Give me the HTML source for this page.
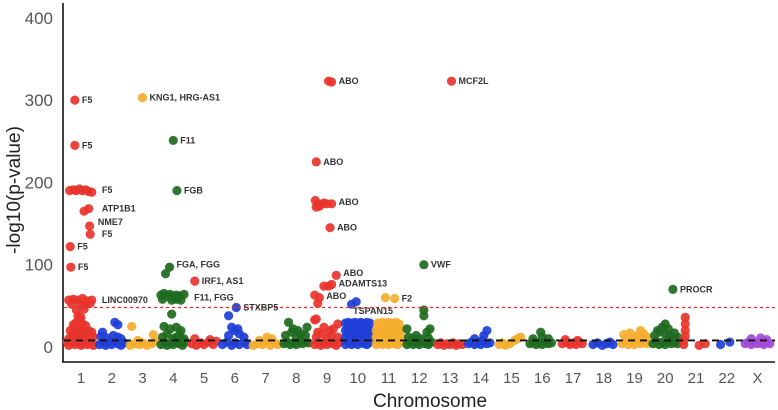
<!DOCTYPE html>
<html><head><meta charset="utf-8">
<style>
html,body{margin:0;padding:0;background:#fff;}
svg{display:block;font-family:"Liberation Sans",sans-serif;}
.lbl{font-size:9px;fill:#333;font-weight:600;}
</style></head>
<body>
<svg id="chart" width="778" height="410" viewBox="0 0 778 410">
<g id="axes"></g>
<g id="pts"></g>
<g id="labels"></g>
</svg>
<script>
const chromosomes=["1","2","3","4","5","6","7","8","9","10","11","12","13","14","15","16","17","18","19","20","21","22","X"];
const chrColors=["#e8342c","#1f3fd8","#f5ae2e","#1e6a1e","#e8342c","#1f3fd8","#f5ae2e","#1e6a1e","#e8342c","#1f3fd8","#f5ae2e","#1e6a1e","#e8342c","#1f3fd8","#f5ae2e","#1e6a1e","#e8342c","#1f3fd8","#f5ae2e","#1e6a1e","#e8342c","#1f3fd8","#a34ad8"];
const yTicks=[0,100,200,300,400];
const suggestiveLine=8;
const significanceLine=48;
// background points: [chromosome index, position within chromosome (-0.5..0.5), -log10 p]
const bgPoints=[
[0,-.4,2],[0,-.3,5],[0,-.2,3],[0,-.1,6],[0,0,2],[0,.1,4],[0,.2,3],[0,.3,5],[0,.4,2],[0,-.4,10],[0,-.3,14],[0,-.2,12],[0,-.1,16],[0,0,11],[0,.1,13],[0,.2,15],[0,.3,10],[0,.4,12],[0,-.35,20],[0,-.2,22],[0,-.1,25],[0,0,19],[0,.1,21],[0,.25,20],[0,-.15,30],[0,-.05,33],[0,.05,28],[0,-.25,27],[0,.15,26],[0,-.1,38],[0,0,36],[0,-.05,16],[0,.35,18],[0,-.45,6],
[1,-.4,3],[1,-.3,6],[1,-.2,2],[1,-.1,5],[1,0,3],[1,.1,7],[1,.2,4],[1,.3,2],[1,.4,5],[1,-.35,13],[1,-.15,11],[1,.05,14],[1,.2,12],[1,.3,10],[1,.1,30],[1,.2,27],[1,-.3,18],
[2,-.4,2],[2,-.25,4],[2,-.1,3],[2,0,5],[2,.15,2],[2,.3,4],[2,.4,7],[2,-.35,25],[2,.35,15],[2,-.15,8],
[3,-.4,3],[3,-.3,6],[3,-.2,2],[3,-.1,5],[3,0,3],[3,.1,6],[3,.2,4],[3,.3,2],[3,.4,6],[3,-.35,12],[3,-.2,16],[3,0,10],[3,.2,14],[3,.35,10],[3,-.3,25],[3,-.1,22],[3,.1,24],[3,.25,20],[3,-.05,40],[3,.1,12],
[4,-.4,4],[4,-.25,2],[4,-.1,5],[4,0,3],[4,.15,6],[4,.3,3],[4,.4,7],[4,-.3,10],[4,.2,9],
[5,-.4,3],[5,-.25,6],[5,-.1,2],[5,0,5],[5,.15,3],[5,.3,6],[5,.4,3],[5,-.2,14],[5,0,20],[5,.15,16],[5,.3,12],[5,-.1,24],[5,.1,22],
[6,-.4,2],[6,-.25,4],[6,-.1,3],[6,0,6],[6,.15,2],[6,.3,5],[6,.4,3],[6,.2,10],[6,.05,12],[6,-.2,8],
[7,-.4,4],[7,-.3,6],[7,-.2,3],[7,-.1,5],[7,0,3],[7,.1,7],[7,.2,4],[7,.3,6],[7,.4,5],[7,-.35,14],[7,-.15,18],[7,0,12],[7,.15,16],[7,.3,14],[7,-.25,30],[7,.35,24],[7,-.1,22],[7,.05,20],
[8,-.4,3],[8,-.3,6],[8,-.2,2],[8,-.1,5],[8,0,3],[8,.1,6],[8,.2,4],[8,.3,2],[8,.4,6],[8,-.35,12],[8,-.15,16],[8,0,10],[8,.15,14],[8,.35,12],[8,-.3,18],[8,.1,20],[8,.35,28],[8,-.1,24],[8,.2,22],[8,-.4,33],
[9,-.4,3],[9,-.3,6],[9,-.2,3],[9,-.1,5],[9,0,3],[9,.1,6],[9,.2,4],[9,.3,3],[9,.4,6],[9,-.4,12],[9,-.3,15],[9,-.2,11],[9,-.1,14],[9,0,12],[9,.1,15],[9,.2,11],[9,.3,14],[9,.4,12],[9,-.4,20],[9,-.3,22],[9,-.2,19],[9,-.1,21],[9,0,20],[9,.1,22],[9,.2,19],[9,.3,21],[9,.4,20],[9,-.4,29],[9,-.3,30],[9,-.2,28],[9,-.1,30],[9,0,29],[9,.1,30],[9,.2,28],[9,.3,30],[9,.4,29],
[10,-.4,3],[10,-.3,6],[10,-.2,3],[10,-.1,5],[10,0,3],[10,.1,6],[10,.2,4],[10,.3,3],[10,.4,6],[10,-.4,12],[10,-.3,15],[10,-.2,11],[10,-.1,14],[10,0,12],[10,.1,15],[10,.2,11],[10,.3,14],[10,.4,12],[10,-.4,20],[10,-.3,22],[10,-.2,19],[10,-.1,21],[10,0,20],[10,.1,22],[10,.2,19],[10,.3,21],[10,.4,20],[10,-.35,29],[10,-.2,30],[10,-.1,28],[10,0,30],[10,.1,29],[10,.25,30],[10,.35,28],
[11,-.4,3],[11,-.3,6],[11,-.2,3],[11,-.1,5],[11,0,3],[11,.1,6],[11,.2,4],[11,.3,3],[11,.4,6],[11,-.35,12],[11,-.1,14],[11,.05,10],[11,.3,11],[11,-.4,22],[11,.25,18],[11,.35,22],[11,-.2,10],
[12,-.4,3],[12,-.3,5],[12,-.2,2],[12,-.1,4],[12,0,3],[12,.1,5],[12,.2,2],[12,.3,4],[12,.4,3],
[13,-.4,4],[13,-.3,6],[13,-.2,3],[13,-.1,5],[13,0,3],[13,.1,6],[13,.2,4],[13,.3,5],[13,-.2,10],[13,.1,14],[13,.2,20],[13,.05,8],
[14,-.4,3],[14,-.3,5],[14,-.2,2],[14,-.05,4],[14,.1,8],[14,.2,10],[14,.3,12],
[15,-.4,4],[15,-.3,6],[15,-.2,3],[15,-.1,5],[15,0,3],[15,.1,6],[15,.2,4],[15,.3,5],[15,-.3,10],[15,0,12],[15,.2,10],[15,-.05,18],
[16,-.35,4],[16,-.2,6],[16,-.1,3],[16,0,5],[16,.1,3],[16,.2,6],[16,.3,4],[16,-.25,9],[16,.15,8],
[17,-.35,3],[17,-.2,5],[17,-.05,2],[17,.1,4],[17,.2,6],[17,.3,3],
[18,-.4,4],[18,-.3,7],[18,-.2,3],[18,-.1,6],[18,0,3],[18,.1,7],[18,.2,4],[18,.3,6],[18,.4,4],[18,-.35,15],[18,-.15,17],[18,.1,14],[18,.3,16],[18,.4,12],[18,.2,20],[18,-.05,11],
[19,-.4,4],[19,-.3,7],[19,-.2,3],[19,-.1,6],[19,0,3],[19,.1,7],[19,.2,4],[19,.3,6],[19,.4,4],[19,-.35,14],[19,-.2,18],[19,0,16],[19,.15,14],[19,.3,17],[19,.4,12],[19,-.1,24],[19,0,28],[19,.1,22],[19,-.25,20],[19,.25,10],
[20,-.4,3],[20,-.4,8],[20,-.35,28],[20,-.35,20],[20,-.35,13],[20,.1,2],[20,.3,4],
[21,-.2,3],[21,.1,6],
[22,-.4,4],[22,-.3,6],[22,-.2,3],[22,-.1,5],[22,0,4],[22,.1,6],[22,.2,3],[22,.3,5],[22,.4,4],[22,-.2,10],[22,.1,11],[22,.3,9]
];
// highlighted hits: [chromosome index, position, -log10 p]
const hitPoints=[
[0,-.2,300],[0,-.2,245],[0,-.37,190],[0,-.25,191],[0,-.15,190],[0,-.05,192],[0,.05,190],[0,.15,191],[0,.25,189],[0,.35,188],
[0,.1,165],[0,.25,168],[0,.28,147],[0,.3,137],[0,-.35,122],[0,-.33,97],
[0,-.4,57],[0,-.25,58],[0,-.1,57],[0,.05,59],[0,.2,56],[0,.35,57],[0,-.3,52],[0,0,51],[0,.15,52],[0,.3,53],[0,-.15,45],[0,.1,46],
[2,0,303],
[3,0,251],[3,.12,190],[3,-.12,97],[3,-.25,89],[3,-.4,63],[3,-.3,65],[3,-.2,62],[3,-.1,64],[3,0,61],[3,.1,63],[3,.2,62],[3,.35,64],[3,-.35,58],[3,-.05,57],[3,.25,57],[3,.1,58],
[4,-.3,80],
[5,.05,48],[5,-.2,38],
[8,.05,323],[8,.15,322],[8,-.35,225],[8,-.38,178],[8,-.3,174],[8,-.2,173],[8,-.1,175],[8,0,174],[8,.15,174],[8,-.35,170],[8,-.25,171],[8,.1,145],[8,.3,87],[8,-.1,74],[8,.05,74],[8,.15,76],[8,-.4,63],[8,-.25,60],[8,-.3,53],[8,-.35,34],
[9,-.2,52],[9,-.05,55],
[10,-.1,60],[10,.2,59],
[11,.15,100],[11,.15,45],[11,.15,38],
[12,.05,323],
[19,.25,70],
[20,-.35,36]
];
const geneLabels=["F5","F5","F5","ATP1B1","NME7","F5","F5","F5","LINC00970","KNG1, HRG-AS1","F11","FGB","FGA, FGG","IRF1, AS1","F11, FGG","STXBP5","ABO","ABO","ABO","ABO","ABO","ADAMTS13","ABO","TSPAN15","F2","VWF","MCF2L","PROCR"];
const labelChr=[0,0,0,0,0,0,0,0,0,2,3,3,3,4,3,5,8,8,8,8,8,8,8,9,10,11,12,19];
const labelPos=[-.2,-.2,.45,.45,.32,.45,-.35,-.33,.45,0,0,.12,-.12,-.3,.45,.05,.15,-.35,.15,.1,.3,.15,-.25,.1,.2,.15,.05,.25];
const labelVal=[300,245,191,168,152,137,122,97,57,303,251,190,100,80,60,48,323,225,176,145,90,77,62,45,59,100,323,70];

const X0=81,DX=30.75,Y0=347,PY=0.823;
const xs=(c,p)=>X0+c*DX+p*DX;
const ys=v=>Y0-v*PY;
const NS="http://www.w3.org/2000/svg";
function mk(tag,attrs,parent,text){const e=document.createElementNS(NS,tag);for(const k in attrs)e.setAttribute(k,attrs[k]);if(text!==undefined)e.textContent=text;parent.appendChild(e);return e;}
const axes=document.getElementById('axes'),pts=document.getElementById('pts'),lab=document.getElementById('labels');

let l=mk('line',{x1:63,y1:3,x2:63,y2:362.5,stroke:'#111','stroke-width':1.6},axes);


l=mk('line',{x1:62,y1:362,x2:775,y2:362,stroke:'#111','stroke-width':1.6},axes);


yTicks.forEach(t=>{const e=mk('text',{x:53,y:ys(t)+6,'text-anchor':'end','font-size':17,fill:'#555'},axes,String(t));

});
chromosomes.forEach((c,i)=>{const e=mk('text',{x:xs(i,0),y:383,'text-anchor':'middle','font-size':15,fill:'#555'},axes,c);

});
let t=mk('text',{x:430,y:407,'text-anchor':'middle','font-size':19,fill:'#222'},axes,'Chromosome');


t=mk('text',{x:0,y:0,'text-anchor':'middle','font-size':19,fill:'#222',transform:'translate(20,190) rotate(-90)'},axes,'-log10(p-value)');



function dot(c,p,v,name){const e=mk('circle',{cx:xs(c,p),cy:ys(v),r:4.6,fill:chrColors[c],'fill-opacity':0.92},pts);

}
bgPoints.forEach(d=>dot(d[0],d[1],d[2],'snp-point-chr'+chromosomes[d[0]]));
hitPoints.forEach(d=>dot(d[0],d[1],d[2],'hit-point-chr'+chromosomes[d[0]]));

l=mk('line',{x1:64,y1:ys(significanceLine),x2:775,y2:ys(significanceLine),stroke:'#d33','stroke-width':1.2,'stroke-dasharray':'3,3'},pts);


l=mk('line',{x1:64,y1:ys(suggestiveLine),x2:775,y2:ys(suggestiveLine),stroke:'#111','stroke-width':1.8,'stroke-dasharray':'7,5'},pts);



geneLabels.forEach((g,i)=>{let x=xs(labelChr[i],labelPos[i])+7,y=ys(labelVal[i])+3;
if(g==='TSPAN15'){x=xs(9,-.15);y=ys(labelVal[i])+4;}
const e=mk('text',{x:x,y:y,class:'lbl'},lab,g);

});
</script>
</body></html>
